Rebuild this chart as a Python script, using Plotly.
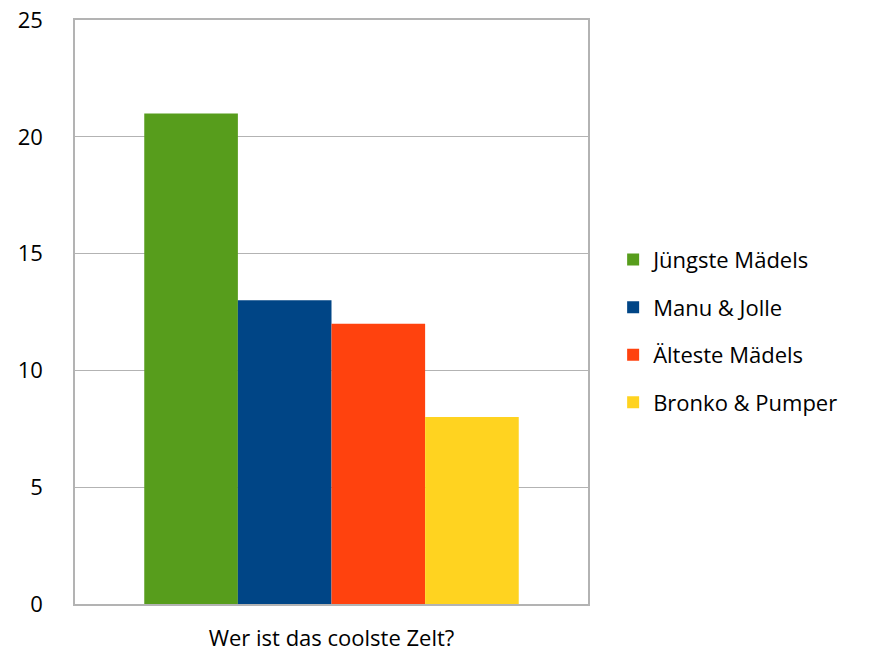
import plotly.graph_objects as go

# Poll result: which tent is the coolest
category = ["Wer ist das coolste Zelt?"]
teams = ["Jüngste Mädels", "Manu & Jolle", "Älteste Mädels", "Bronko & Pumper"]
votes = [21, 13, 12, 8]
colors = ["#579D1C", "#004586", "#FF420E", "#FFD320"]

y_ticks = [0, 5, 10, 15, 20, 25]

fig = go.Figure()
for i, (name, v, c) in enumerate(zip(teams, votes, colors)):
    fig.add_trace(go.Bar(
        x=category, y=[v], name=name,
        marker=dict(color=c, line=dict(width=0)),
        legendgroup=f"g{i}",
    ))

font_family = "Open Sans, Noto Sans, sans-serif"
grid = "#B3B3B3"

fig.update_layout(
    width=871, height=653,
    margin=dict(l=74.5, r=283, t=19.5, b=49, autoexpand=False),
    paper_bgcolor="white", plot_bgcolor="white",
    barmode="group", bargap=0.27, bargroupgap=0,
    font=dict(family=font_family, size=22, color="#000000"),
    showlegend=True,
    legend=dict(
        x=1.049, xanchor="left", y=0.467, yanchor="middle",
        font=dict(size=22, family=font_family),
        traceorder="grouped", tracegroupgap=16,
        bgcolor="rgba(0,0,0,0)",
    ),
)
fig.update_xaxes(
    showgrid=False, showline=True, linecolor=grid, linewidth=1.5, mirror=True,
    ticks="", ticklabelstandoff=14, tickfont=dict(size=22), automargin=False,
)
fig.update_yaxes(
    range=[0, 25], tickvals=y_ticks, ticktext=[str(t) for t in y_ticks],
    showgrid=True, gridcolor=grid, gridwidth=1,
    showline=True, linecolor=grid, linewidth=1.5, mirror=True,
    zeroline=False, ticks="", ticklabelstandoff=26, tickfont=dict(size=22),
    automargin=False,
)

fig.write_html("out.html")
